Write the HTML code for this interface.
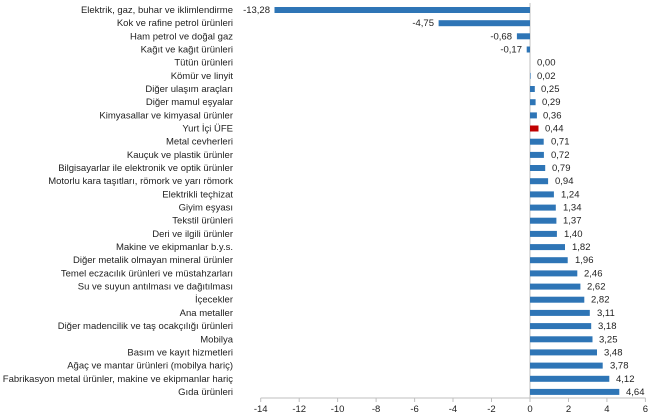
<!DOCTYPE html>
<html><head><meta charset="utf-8"><style>
html,body{margin:0;padding:0;background:#fff}
svg{display:block;font-family:"Liberation Sans",sans-serif;font-size:9.5px;fill:#222}
.l{text-anchor:end}
.b{fill:#2e75b6}
</style></head><body>
<svg width="650" height="419" viewBox="0 0 650 419">
<line x1="530" y1="3" x2="530" y2="398" stroke="#bfbfbf" stroke-width="1"/>
<line x1="260.7" y1="398" x2="645.5" y2="398" stroke="#bfbfbf" stroke-width="1"/>
<g stroke="#bfbfbf">
<line x1="260.7" y1="398" x2="260.7" y2="402"/><line x1="299.2" y1="398" x2="299.2" y2="402"/><line x1="337.6" y1="398" x2="337.6" y2="402"/><line x1="376.1" y1="398" x2="376.1" y2="402"/><line x1="414.6" y1="398" x2="414.6" y2="402"/><line x1="453" y1="398" x2="453" y2="402"/><line x1="491.5" y1="398" x2="491.5" y2="402"/><line x1="530" y1="398" x2="530" y2="402"/><line x1="568.5" y1="398" x2="568.5" y2="402"/><line x1="606.9" y1="398" x2="606.9" y2="402"/><line x1="645.4" y1="398" x2="645.4" y2="402"/>
</g>
<g style="text-anchor:middle">
<text x="260.7" y="412">-14</text><text x="299.2" y="412">-12</text><text x="337.6" y="412">-10</text><text x="376.1" y="412">-8</text><text x="414.6" y="412">-6</text><text x="453" y="412">-4</text><text x="491.5" y="412">-2</text><text x="530" y="412">0</text><text x="568.5" y="412">2</text><text x="606.9" y="412">4</text><text x="645.4" y="412">6</text>
</g>

<rect class="b" x="274.5" y="7" width="255.5" height="6"/><text class="l" x="233" y="13">Elektrik, gaz, buhar ve iklimlendirme</text><text class="l" x="270" y="13">-13,28</text>
<rect class="b" x="438.6" y="20.2" width="91.4" height="6"/><text class="l" x="233" y="26.2">Kok ve rafine petrol ürünleri</text><text class="l" x="434" y="26.2">-4,75</text>
<rect class="b" x="516.9" y="33.3" width="13.1" height="6"/><text class="l" x="233" y="39.3">Ham petrol ve doğal gaz</text><text class="l" x="512" y="39.3">-0,68</text>
<rect class="b" x="526.7" y="46.5" width="3.3" height="6"/><text class="l" x="233" y="52.5">Kağıt ve kağıt ürünleri</text><text class="l" x="522" y="52.5">-0,17</text>
<text class="l" x="233" y="65.7">Tütün ürünleri</text><text x="537" y="65.7">0,00</text>
<rect class="b" x="530" y="72.9" width="0.6" height="6"/><text class="l" x="233" y="78.9">Kömür ve linyit</text><text x="537" y="78.9">0,02</text>
<rect class="b" x="530" y="86" width="4.8" height="6"/><text class="l" x="233" y="92">Diğer ulaşım araçları</text><text x="541" y="92">0,25</text>
<rect class="b" x="530" y="99.2" width="5.6" height="6"/><text class="l" x="233" y="105.2">Diğer mamul eşyalar</text><text x="542" y="105.2">0,29</text>
<rect class="b" x="530" y="112.4" width="6.9" height="6"/><text class="l" x="233" y="118.4">Kimyasallar ve kimyasal ürünler</text><text x="543" y="118.4">0,36</text>
<rect x="530" y="125.5" width="8.5" height="6" fill="#c00000"/><text class="l" x="233" y="131.5">Yurt İçi ÜFE</text><text x="545" y="131.5">0,44</text>
<rect class="b" x="530" y="138.7" width="13.7" height="6"/><text class="l" x="233" y="144.7">Metal cevherleri</text><text x="551" y="144.7">0,71</text>
<rect class="b" x="530" y="151.9" width="13.9" height="6"/><text class="l" x="233" y="157.9">Kauçuk ve plastik ürünler</text><text x="551" y="157.9">0,72</text>
<rect class="b" x="530" y="165" width="15.2" height="6"/><text class="l" x="233" y="171">Bilgisayarlar ile elektronik ve optik ürünler</text><text x="552" y="171">0,79</text>
<rect class="b" x="530" y="178.2" width="18.1" height="6"/><text class="l" x="233" y="184.2">Motorlu kara taşıtları, römork ve yarı römork</text><text x="555" y="184.2">0,94</text>
<rect class="b" x="530" y="191.4" width="23.9" height="6"/><text class="l" x="233" y="197.4">Elektrikli teçhizat</text><text x="561" y="197.4">1,24</text>
<rect class="b" x="530" y="204.6" width="25.8" height="6"/><text class="l" x="233" y="210.6">Giyim eşyası</text><text x="563" y="210.6">1,34</text>
<rect class="b" x="530" y="217.7" width="26.4" height="6"/><text class="l" x="233" y="223.7">Tekstil ürünleri</text><text x="563" y="223.7">1,37</text>
<rect class="b" x="530" y="230.9" width="26.9" height="6"/><text class="l" x="233" y="236.9">Deri ve ilgili ürünler</text><text x="564" y="236.9">1,40</text>
<rect class="b" x="530" y="244.1" width="35" height="6"/><text class="l" x="233" y="250.1">Makine ve ekipmanlar b.y.s.</text><text x="572" y="250.1">1,82</text>
<rect class="b" x="530" y="257.2" width="37.7" height="6"/><text class="l" x="233" y="263.2">Diğer metalik olmayan mineral ürünler</text><text x="575" y="263.2">1,96</text>
<rect class="b" x="530" y="270.4" width="47.3" height="6"/><text class="l" x="233" y="276.4">Temel eczacılık ürünleri ve müstahzarları</text><text x="584" y="276.4">2,46</text>
<rect class="b" x="530" y="283.6" width="50.4" height="6"/><text class="l" x="233" y="289.6">Su ve suyun antılması ve dağıtılması</text><text x="587" y="289.6">2,62</text>
<rect class="b" x="530" y="296.7" width="54.3" height="6"/><text class="l" x="233" y="302.7">İçecekler</text><text x="591" y="302.7">2,82</text>
<rect class="b" x="530" y="309.9" width="59.8" height="6"/><text class="l" x="233" y="315.9">Ana metaller</text><text x="597" y="315.9">3,11</text>
<rect class="b" x="530" y="323.1" width="61.2" height="6"/><text class="l" x="233" y="329.1">Diğer madencilik ve taş ocakçılığı ürünleri</text><text x="598" y="329.1">3,18</text>
<rect class="b" x="530" y="336.3" width="62.5" height="6"/><text class="l" x="233" y="342.3">Mobilya</text><text x="599" y="342.3">3,25</text>
<rect class="b" x="530" y="349.4" width="67" height="6"/><text class="l" x="233" y="355.4">Basım ve kayıt hizmetleri</text><text x="604" y="355.4">3,48</text>
<rect class="b" x="530" y="362.6" width="72.7" height="6"/><text class="l" x="233" y="368.6">Ağaç ve mantar ürünleri (mobilya hariç)</text><text x="610" y="368.6">3,78</text>
<rect class="b" x="530" y="375.8" width="79.3" height="6"/><text class="l" x="233" y="381.8">Fabrikasyon metal ürünler, makine ve ekipmanlar hariç</text><text x="616" y="381.8">4,12</text>
<rect class="b" x="530" y="388.9" width="89.3" height="6"/><text class="l" x="233" y="394.9">Gıda ürünleri</text><text x="626" y="394.9">4,64</text>
</svg>
</body></html>
